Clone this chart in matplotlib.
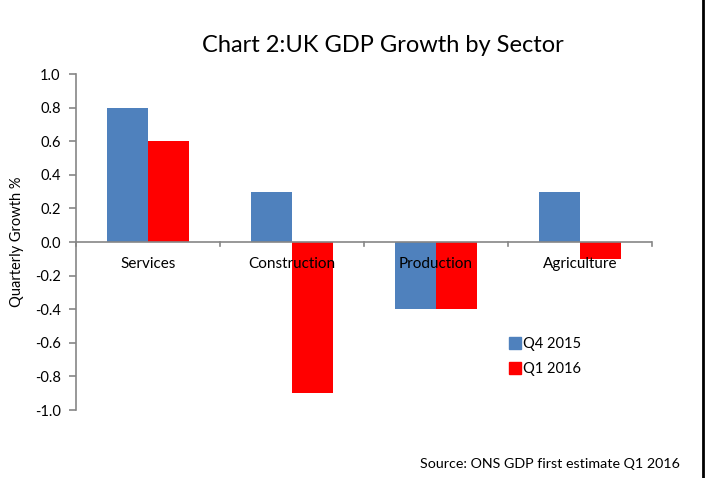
import numpy as np
import matplotlib
matplotlib.use("Agg")
import matplotlib.pyplot as plt
from matplotlib.lines import Line2D

plt.rcParams["font.family"] = ["Lato", "DejaVu Sans"]

sectors = ["Services", "Construction", "Production", "Agriculture"]
q4_2015 = [0.8, 0.3, -0.4, 0.3]
q1_2016 = [0.6, -0.9, -0.4, -0.1]
series_names = ["Q4 2015", "Q1 2016"]
colors = ["#4f81bd", "#ff0000"]
yticks = [-1.0, -0.8, -0.6, -0.4, -0.2, 0.0, 0.2, 0.4, 0.6, 0.8, 1.0]

W, H = 705, 478
fig = plt.figure(figsize=(W / 100, H / 100), dpi=100)
ax = fig.add_axes([76 / W, 1 - 410 / H, (652 - 76) / W, (410 - 74) / H])

x = np.arange(len(sectors))
bw = 0.285
bars = []
for i, (vals, c) in enumerate(zip([q4_2015, q1_2016], colors)):
    bars.append(ax.bar(x + (i - 0.5) * bw, vals, bw, color=c, zorder=2))

ax.set_xlim(-0.5, len(sectors) - 0.5)
ax.set_ylim(-1.0, 1.0)
ax.set_yticks(yticks)
ax.set_yticklabels([f"{v:.1f}" for v in yticks], fontsize=10.5)
ax.set_ylabel("Quarterly Growth %", fontsize=10.5, labelpad=8)

grey = "#868686"
for s in ["top", "right", "bottom"]:
    ax.spines[s].set_visible(False)
ax.spines["left"].set_color(grey)
ax.spines["left"].set_linewidth(1.2)
ax.tick_params(axis="y", direction="out", length=5, color=grey, width=1.2, pad=6)

# category axis drawn along zero, ticks at category boundaries
ax.axhline(0, color=grey, lw=1.2, zorder=3)
ax.set_xticks([])
for b in np.arange(-0.5, len(sectors), 1.0):
    ax.plot([b, b], [0, -0.025], color=grey, lw=1.2, zorder=3, clip_on=False)
for xi, name in zip(x, sectors):
    ax.text(xi, -0.13, name, ha="center", va="center", fontsize=11, zorder=4)

handles = [Line2D([], [], marker="s", linestyle="none", markersize=8,
                  markerfacecolor=c, markeredgecolor=c) for c in colors]
fig.legend(handles, series_names, loc="upper left", bbox_to_anchor=(500 / W, 1 - 330 / H),
           frameon=False, fontsize=10.5, handletextpad=0.1, labelspacing=0.75,
           handlelength=1.0, borderpad=0)

fig.text(383 / W, 1 - 46 / H, "Chart 2:UK GDP Growth by Sector", ha="center", va="center",
         fontsize=17)
fig.text(680 / W, 1 - 464 / H, "Source: ONS GDP first estimate Q1 2016", ha="right",
         va="center", fontsize=10.3)

fig.add_artist(Line2D([703 / W, 703 / W], [0, 1], color="black", lw=2))

fig.savefig("out.png", dpi=100)
